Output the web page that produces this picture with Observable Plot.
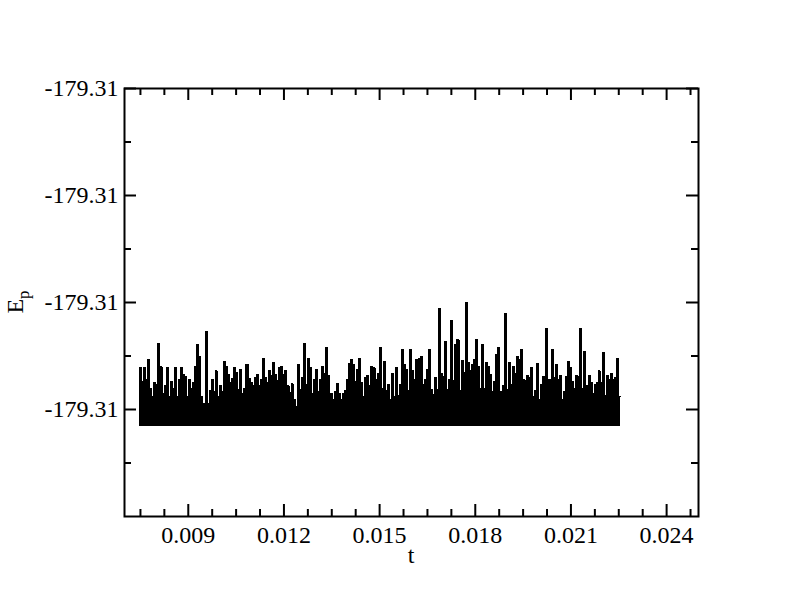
<!DOCTYPE html>
<html>
<head>
<meta charset="utf-8">
<script src="https://cdn.jsdelivr.net/npm/d3@7"></script>
<script src="https://cdn.jsdelivr.net/npm/@observablehq/plot@0.6"></script>
<style>
  html, body { margin: 0; padding: 0; background: #fff; }
  #chart svg { display: block; }
</style>
</head>
<body>
<div id="chart"></div>
<script>
// ---- data ----
// Potential energy E_p = epBase + offset * 1e-5
const epBase = -179.3117;
const epFloor = 4;                 // lower edge of the dense oscillation
const tStart = 0.00747;            // first sample time
const tEnd = 0.022564;             // last sample time
// upper excursions of the oscillating signal (offsets, 1e-5 units), left to right
const epPeaks = [
  59,46,59,48,67,40,32,45,43,82, 60,35,42,59,32,46,40,59,32,48,
  59,53,51,32,48,40,45,60,81,70, 32,26,93,26,38,48,37,56,32,42,
  37,65,60,53,45,49,
  59,55,39,57,35,40,62,49,45,42, 50,53,42,48,68,50,45,56,52,64,
  53,47,59,60,53,56,42,36,44,29, 23,62,39,50,82,43,68,59,35,48,
  57,37,48,60,54,78,
  52,35,29,37,44,35,29,35,38,48, 63,67,62,46,57,68,45,32,50,52,
  42,60,59,48,54,78,40,65,38,43, 29,54,32,59,33,43,76,62,57,38,
  76,56,48,67,68,
  70,43,48,57,76,39,34,50,39,114, 54,51,84,39,48,103,47,81,85,38,
  66,55,120,64,56,62,67,85,60,40, 81,40,64,60,53,37,46,71,78,37,
  42,110,39,64,43,60,
  54,70,67,76,48,47,52,50,59,32, 38,63,29,43,51,96,48,48,76,50,
  62,48,52,29,37,51,65,59,46,40, 52,51,96,40,74,42,52,45,35,43,
  45,56,45,73,33,52,48,54,48,50, 68,32
];

// axis ticks
const xDomain = [0.007, 0.025];
const xMajorTicks = [0.009, 0.012, 0.015, 0.018, 0.021, 0.024];
const xMinorTicks = [0.0075, 0.00825, 0.00975, 0.0105, 0.01125, 0.01275, 0.0135, 0.01425,
                     0.01575, 0.0165, 0.01725, 0.01875, 0.0195, 0.02025, 0.02175, 0.0225,
                     0.02325, 0.02475];
const yDomain = [-179.3125, -179.3085];
const yMajorTicks = [-179.3115, -179.3105, -179.3095, -179.3085];
const yMinorTicks = [-179.3120, -179.3110, -179.3100, -179.3090];
const xLabel = "t";
const yLabelMain = "E";
const yLabelSub = "p";

// ---- rows: one per oscillation, step-filled from the floor up to its peak ----
const N = epPeaks.length;
const dt = (tEnd - tStart) / N;
const floorVal = epBase + epFloor * 1e-5;
const rows = epPeaks.map((p, i) => ({t: tStart + i * dt, ep: epBase + p * 1e-5}));
rows.push({t: tEnd, ep: epBase + epPeaks[N - 1] * 1e-5});

// ---- layout ----
const W = 792, H = 607;
const mL = 124, mR = 94, mT = 88, mB = 91;
const innerW = W - mL - mR, innerH = H - mT - mB;
const majorLen = 12, minorLen = 7;
const font = "'Liberation Serif', 'Times New Roman', 'DejaVu Serif', serif";

const chart = Plot.plot({
  width: W, height: H,
  marginLeft: mL, marginRight: mR, marginTop: mT, marginBottom: mB,
  style: {fontFamily: font, fontSize: "24px", color: "black", background: "white"},
  x: {domain: xDomain},
  y: {domain: yDomain},
  marks: [
    Plot.areaY(rows, {x: "t", y1: floorVal, y2: "ep", curve: "step-after", fill: "black",
                      shapeRendering: "crispEdges"}),
    Plot.line(rows, {x: "t", y: "ep", curve: "step-after", stroke: "black", strokeWidth: 1,
                     shapeRendering: "crispEdges"}),
    // ticks (inward on all four sides)
    Plot.tickX(xMajorTicks, {x: d => d, insetTop: innerH - majorLen, stroke: "black", strokeWidth: 2}),
    Plot.tickX(xMajorTicks, {x: d => d, insetBottom: innerH - majorLen, stroke: "black", strokeWidth: 2}),
    Plot.tickX(xMinorTicks, {x: d => d, insetTop: innerH - minorLen, stroke: "black", strokeWidth: 2}),
    Plot.tickX(xMinorTicks, {x: d => d, insetBottom: innerH - minorLen, stroke: "black", strokeWidth: 2}),
    Plot.tickY(yMajorTicks, {y: d => d, insetRight: innerW - majorLen, stroke: "black", strokeWidth: 2}),
    Plot.tickY(yMajorTicks, {y: d => d, insetLeft: innerW - majorLen, stroke: "black", strokeWidth: 2}),
    Plot.tickY(yMinorTicks, {y: d => d, insetRight: innerW - minorLen, stroke: "black", strokeWidth: 2}),
    Plot.tickY(yMinorTicks, {y: d => d, insetLeft: innerW - minorLen, stroke: "black", strokeWidth: 2}),
    Plot.frame({stroke: "black", strokeWidth: 2}),
    Plot.axisX({ticks: xMajorTicks, tickSize: 0, tickPadding: 9, tickFormat: d3.format(".3f"),
                label: null, fontSize: 24, fill: "black"}),
    Plot.axisY({ticks: yMajorTicks, tickSize: 0, tickPadding: 6, tickFormat: d => d.toFixed(2),
                label: null, fontSize: 24, fill: "black"})
  ]
});

document.getElementById("chart").appendChild(chart);

// axis titles
const svg = d3.select(chart);
svg.append("text")
  .attr("x", mL + innerW / 2).attr("y", H - 44)
  .attr("text-anchor", "middle")
  .style("font-family", font).style("font-size", "24px").attr("fill", "black")
  .text(xLabel);
const yl = svg.append("text")
  .attr("transform", `translate(23, ${mT + innerH / 2}) rotate(-90)`)
  .attr("text-anchor", "middle")
  .style("font-family", font).style("font-size", "24px").attr("fill", "black");
yl.append("tspan").text(yLabelMain);
yl.append("tspan").attr("dy", "0.35em").style("font-size", "17px").text(yLabelSub);
</script>
</body>
</html>
